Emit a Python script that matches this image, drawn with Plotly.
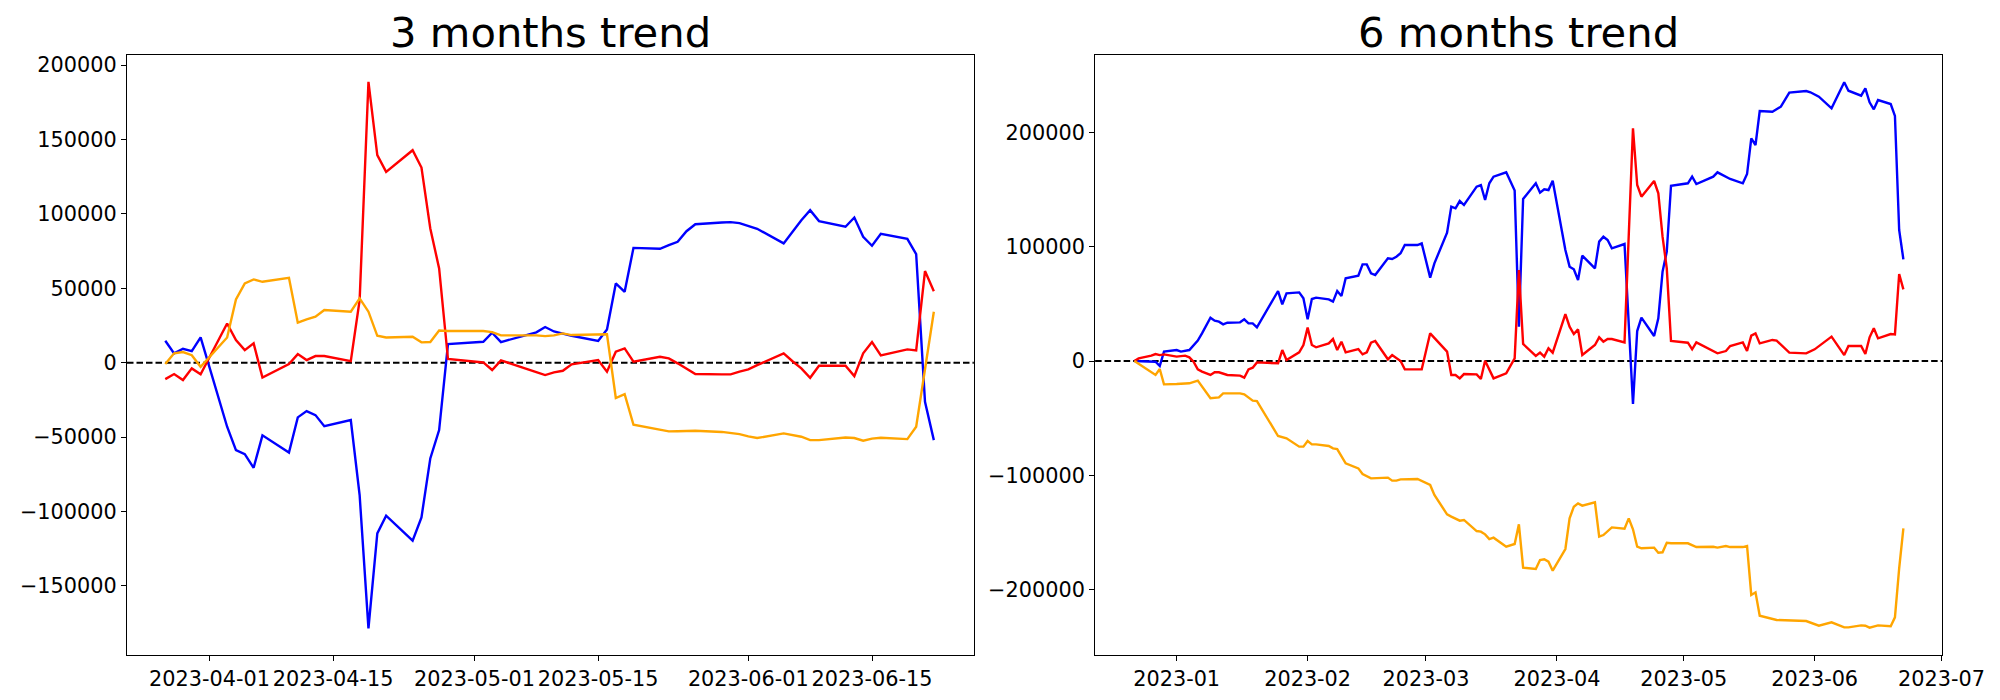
import plotly.graph_objects as go
import pandas as pd

# ---------------- 3 months trend (left) ----------------
three_dates = [
    "2023-03-27", "2023-03-28", "2023-03-29", "2023-03-30", "2023-03-31",
    "2023-04-03", "2023-04-04", "2023-04-05", "2023-04-06", "2023-04-07",
    "2023-04-10", "2023-04-11", "2023-04-12", "2023-04-13", "2023-04-14",
    "2023-04-17", "2023-04-18", "2023-04-19", "2023-04-20", "2023-04-21",
    "2023-04-24", "2023-04-25", "2023-04-26", "2023-04-27", "2023-04-28",
    "2023-05-02", "2023-05-03", "2023-05-04",
    "2023-05-08", "2023-05-09", "2023-05-10", "2023-05-11", "2023-05-12",
    "2023-05-15", "2023-05-16", "2023-05-17", "2023-05-18", "2023-05-19",
    "2023-05-22", "2023-05-23", "2023-05-24", "2023-05-25", "2023-05-26",
    "2023-05-29", "2023-05-30", "2023-05-31", "2023-06-01", "2023-06-02",
    "2023-06-05", "2023-06-06", "2023-06-07", "2023-06-08", "2023-06-09",
    "2023-06-12", "2023-06-13", "2023-06-14", "2023-06-15", "2023-06-16",
    "2023-06-19", "2023-06-20", "2023-06-21", "2023-06-22",
]
three_blue = [
    14800, 6300, 9400, 7800, 17000,
    -43000, -58700, -61400, -70600, -48800,
    -60300, -36700, -32500, -35200, -42600,
    -38500, -88900, -178500, -114700, -102800,
    -119600, -103900, -64300, -45200, 12500,
    14100, 20200, 13900,
    20400, 24000, 21000, 19500, 18100,
    14600, 22400, 53300, 47700, 77200,
    76600, 79000, 81300, 88400, 93100,
    94200, 94500, 93800, 92000, 90000,
    80200, 88000, 95800, 102500, 95200,
    91400, 97600, 84600, 78600, 86600,
    83300, 73000, -26200, -52000,
]
three_red = [
    -11000, -7600, -11600, -3800, -7800,
    26400, 15200, 8500, 13000, -9900,
    -900, 5800, 1800, 4500, 4500,
    1100, 42000, 188800, 139500, 128300,
    142800, 131200, 90200, 63400, 2500,
    200, -4900, 1600,
    -6300, -8300, -6500, -5400, -1100,
    1800, -6000, 7400, 9600, 700,
    4000, 2900, -400, -3800, -7600,
    -7800, -7800, -6000, -4500, -1600,
    6300, 1000, -3800, -10100, -2000,
    -2000, -9000, 6300, 13900, 4900,
    9000, 8300, 61600, 48100,
]
three_orange = [
    -900, 6300, 7200, 5100, -2700,
    17000, 42500, 53300, 56000, 54400,
    57100, 26900, 29100, 30900, 35400,
    34300, 43200, 34300, 18100, 17000,
    17500, 13700, 13900, 21700, 21300,
    21300, 20600, 18400,
    18400, 17900, 18400, 19700, 18600,
    18600, 19100, -23700, -21100, -41700,
    -45200, -46100, -46000, -45800, -45700,
    -46500, -47000, -48000, -49500, -50600,
    -47500, -48500, -49700, -52000, -52000,
    -50200, -50600, -52400, -51000, -50400,
    -51300, -43000, -5000, 34300,
]
three_xticks = ["2023-04-01", "2023-04-15", "2023-05-01", "2023-05-15", "2023-06-01", "2023-06-15"]
three_yticks = [-150000, -100000, -50000, 0, 50000, 100000, 150000, 200000]

# ---------------- 6 months trend (right) ----------------
# dates are stored as day numbers counted from six_base
six_base = "2023-01-01"
six_blue_day = [-10, -6, -5, -4, -3, 0, 1, 3, 5, 6, 8, 9, 10, 11, 12, 15, 16, 17, 18, 19,
                24, 25, 26, 29, 30, 31, 32, 33, 36, 37, 38, 39, 40, 43, 44, 45, 46, 47, 50, 51,
                52, 53, 54, 57, 58, 60, 61, 64, 65, 66, 67, 68, 71, 72, 73, 74, 75, 78, 80, 81,
                82, 85, 86, 87, 88, 89, 92, 93, 94, 95, 96, 99, 100, 101, 102, 103, 106, 108, 109, 110,
                113, 114, 115, 116, 117, 121, 122, 123, 127, 128, 131, 134, 135, 136, 137, 138, 141, 143, 145, 149,
                150, 152, 155, 158, 159, 162, 163, 164, 165, 166, 169, 170, 171, 172]
six_blue_val = [0, 0, -600, -4400, 8200, 9600, 8200, 9600, 17800, 24200, 37900, 35300, 34400, 32100, 33500,
                33800, 36400, 32900, 32900, 29400, 61200, 49600, 59200, 60000, 54800, 36400, 54200, 55400, 53900, 51900,
                61200, 56800, 72300, 74600, 84500, 84500, 76700, 75200, 89800, 89200, 91200, 94200, 101400, 101400, 102900,
                72900, 85400, 112200, 135000, 133500, 139900, 136400, 152500, 153900, 140800, 155400, 161200, 165000, 149000, 30000,
                141700, 155400, 147200, 150100, 149500, 157700, 97100, 82500, 80200, 70800, 92100, 81000, 104400, 108700, 105800,
                98500, 102300, -37600, 26200, 37900, 21900, 37300, 78100, 95600, 153300, 155400, 161200, 154800, 161200, 165000,
                159200, 155400, 163500, 194700, 188900, 218600, 218000, 222400, 234700, 236100, 235000, 231200, 221000, 243700, 236400,
                232000, 238400, 226200, 220100, 228200, 224700, 214300, 114600, 88900]
six_red_day = [-10, -9, -6, -5, -4, -3, 0, 2, 3, 4, 5, 6, 8, 9, 10, 11, 12, 15, 16, 17,
               18, 19, 24, 25, 26, 29, 30, 31, 32, 33, 36, 37, 38, 39, 40, 43, 44, 45, 46, 47,
               50, 51, 52, 53, 54, 57, 58, 60, 64, 65, 66, 67, 68, 71, 72, 73, 74, 75, 78, 79,
               80, 81, 82, 85, 86, 87, 88, 89, 92, 93, 94, 95, 96, 99, 100, 101, 102, 103, 106, 108,
               109, 110, 113, 114, 115, 116, 117, 121, 122, 123, 128, 130, 131, 134, 135, 136, 137, 138, 141, 142,
               145, 149, 150, 151, 155, 158, 159, 162, 163, 164, 165, 166, 169, 170, 171, 172]
six_red_val = [0, 2300, 4700, 6100, 5200, 5800, 3800, 4700, 3200, -600, -7300, -9300, -12200, -9900, -9900,
               -10800, -12200, -12800, -14600, -7300, -5800, -1200, -2000, 9600, 900, 7600, 14000, 29200, 14000, 12000,
               15400, 19200, 9600, 16900, 7600, 10500, 5800, 7600, 16000, 17500, 1500, 5200, 2900, 0, -7300,
               -7300, -7300, 24200, 8200, -12200, -12200, -15200, -11400, -11700, -15700, 300, -7900, -15200, -10800, -4000,
               2300, 79600, 14900, 4400, 7300, 3800, 11100, 7300, 41100, 30000, 23600, 27700, 5200, 14000, 20700,
               16900, 19200, 19200, 16300, 203500, 153900, 143700, 157400, 146600, 108700, 81000, 17500, 16000, 10200, 16300,
               6700, 8700, 13100, 16300, 8700, 22200, 24200, 15400, 18400, 17800, 7300, 6700, 8200, 10200, 21300,
               5200, 13100, 13100, 6100, 20700, 28600, 19800, 23600, 23300, 76100, 62700]
six_orange_day = [-10, -5, -4, -3, 0, 3, 5, 8, 10, 11, 15, 16, 18, 19, 24, 26, 29, 30, 31, 32,
                  33, 36, 37, 38, 40, 43, 44, 46, 50, 51, 52, 53, 57, 60, 61, 64, 65, 67, 68, 71,
                  72, 73, 74, 75, 78, 80, 81, 82, 85, 86, 87, 88, 89, 92, 93, 94, 95, 96, 99, 100,
                  101, 102, 103, 106, 107, 108, 109, 110, 113, 114, 115, 116, 117, 121, 122, 123, 127, 128, 130, 131,
                  134, 135, 136, 137, 138, 141, 142, 149, 150, 152, 155, 158, 159, 162, 163, 164, 166, 169, 170, 171, 172]
six_orange_val = [0, -12200, -7000, -20400, -20100, -19500, -17200, -32600, -31800, -28300,
                  -28300, -29200, -34700, -35000, -65600, -67600, -74900, -74900, -70000, -72900,
                  -72900, -74300, -76400, -77000, -89500, -93900, -98800, -102600, -102000, -104600,
                  -104600, -103500, -103200, -108400, -117200, -134100, -136100, -139600, -139000, -148700,
                  -149200, -151600, -155700, -154500, -162400, -160000, -142800, -180700, -181900, -174000,
                  -173400, -175500, -183400, -164400, -137600, -127400, -124500, -126500, -123600, -153600,
                  -152200, -149200, -145500, -146600, -137600, -147200, -162400, -163800, -163200, -167600,
                  -167300, -158900, -159400, -159400, -160900, -162700, -162400, -163200, -161800, -162700,
                  -162700, -161800, -204600, -202300, -222700, -225600, -226500, -227400, -228800, -231500,
                  -228500, -232900, -232900, -231200, -231500, -233200, -231200, -232000, -224200, -181300, -146300]
six_xticks = ["2023-01-01", "2023-02-01", "2023-03-01", "2023-04-01", "2023-05-01", "2023-06-01", "2023-07-01"]
six_yticks = [-200000, -100000, 0, 100000, 200000]


def day_to_date(days):
    return (pd.Timestamp(six_base) + pd.to_timedelta(days, unit="D")).strftime("%Y-%m-%d").tolist()


# ---------------- layout geometry ----------------
W, H = 2000, 700
OFF = 8  # the page places the figure 8px from the top-left corner
ML, MR, MT, MB = 122.7 - OFF, 57.7 + OFF, 55 - OFF, 45 + OFF
PW = W - ML - MR
PH = H - MT - MB
left_dom = [0, (971.7 - 122.7) / PW]
right_dom = [(1093.3 - 122.7) / PW, 1]

FONT = "DejaVu Sans"
LW = 2.4

fig = go.Figure()

for vals, color in [(three_blue, "blue"), (three_red, "red"), (three_orange, "orange")]:
    fig.add_trace(go.Scatter(x=three_dates, y=vals, mode="lines",
                             line=dict(color=color, width=LW),
                             xaxis="x", yaxis="y", showlegend=False))

for days, vals, color in [(six_blue_day, six_blue_val, "blue"),
                          (six_red_day, six_red_val, "red"),
                          (six_orange_day, six_orange_val, "orange")]:
    fig.add_trace(go.Scatter(x=day_to_date(days), y=vals, mode="lines",
                             line=dict(color=color, width=LW),
                             xaxis="x2", yaxis="y2", showlegend=False))

axis_style = dict(
    showline=True, linecolor="black", linewidth=1.2, mirror=True,
    ticks="outside", ticklen=5, tickwidth=1.2, tickcolor="black",
    showgrid=False, zeroline=False,
    tickfont=dict(family=FONT, size=20.8, color="black"),
)

fig.update_layout(
    width=W, height=H,
    margin=dict(l=ML, r=MR, t=MT, b=MB, pad=0),
    paper_bgcolor="white", plot_bgcolor="white",
    font=dict(family=FONT, color="black"),
    showlegend=False,
    xaxis=dict(domain=left_dom, anchor="y", type="date",
               range=["2023-03-22 16:00", "2023-06-26 12:43"],
               tickvals=three_xticks, tickformat="%Y-%m-%d", **axis_style),
    yaxis=dict(domain=[0, 1], anchor="x",
               range=[-196400, 206800],
               tickvals=three_yticks, tickformat="d", **axis_style),
    xaxis2=dict(domain=right_dom, anchor="y2", type="date",
                range=["2022-12-12 17:00", "2023-07-01 03:20"],
                tickvals=six_xticks, tickformat="%Y-%m", **axis_style),
    yaxis2=dict(domain=[0, 1], anchor="x2",
                range=[-257100, 267600],
                tickvals=six_yticks, tickformat="d", **axis_style),
)

# zero reference lines
for xr, yr in [("x domain", "y"), ("x2 domain", "y2")]:
    fig.add_shape(type="line", xref=xr, yref=yr, x0=0, x1=1, y0=0, y1=0,
                  line=dict(color="black", width=2.2, dash="6.5px,3px"), layer="below")

# titles
title_y = 1 + (55 - 32) / PH
for text, dom in [("3 months trend", left_dom), ("6 months trend", right_dom)]:
    fig.add_annotation(text=text, xref="paper", yref="paper",
                       x=(dom[0] + dom[1]) / 2, y=title_y,
                       xanchor="center", yanchor="middle", showarrow=False,
                       font=dict(family=FONT, size=41.7, color="black"))

fig.write_html("out.html")
